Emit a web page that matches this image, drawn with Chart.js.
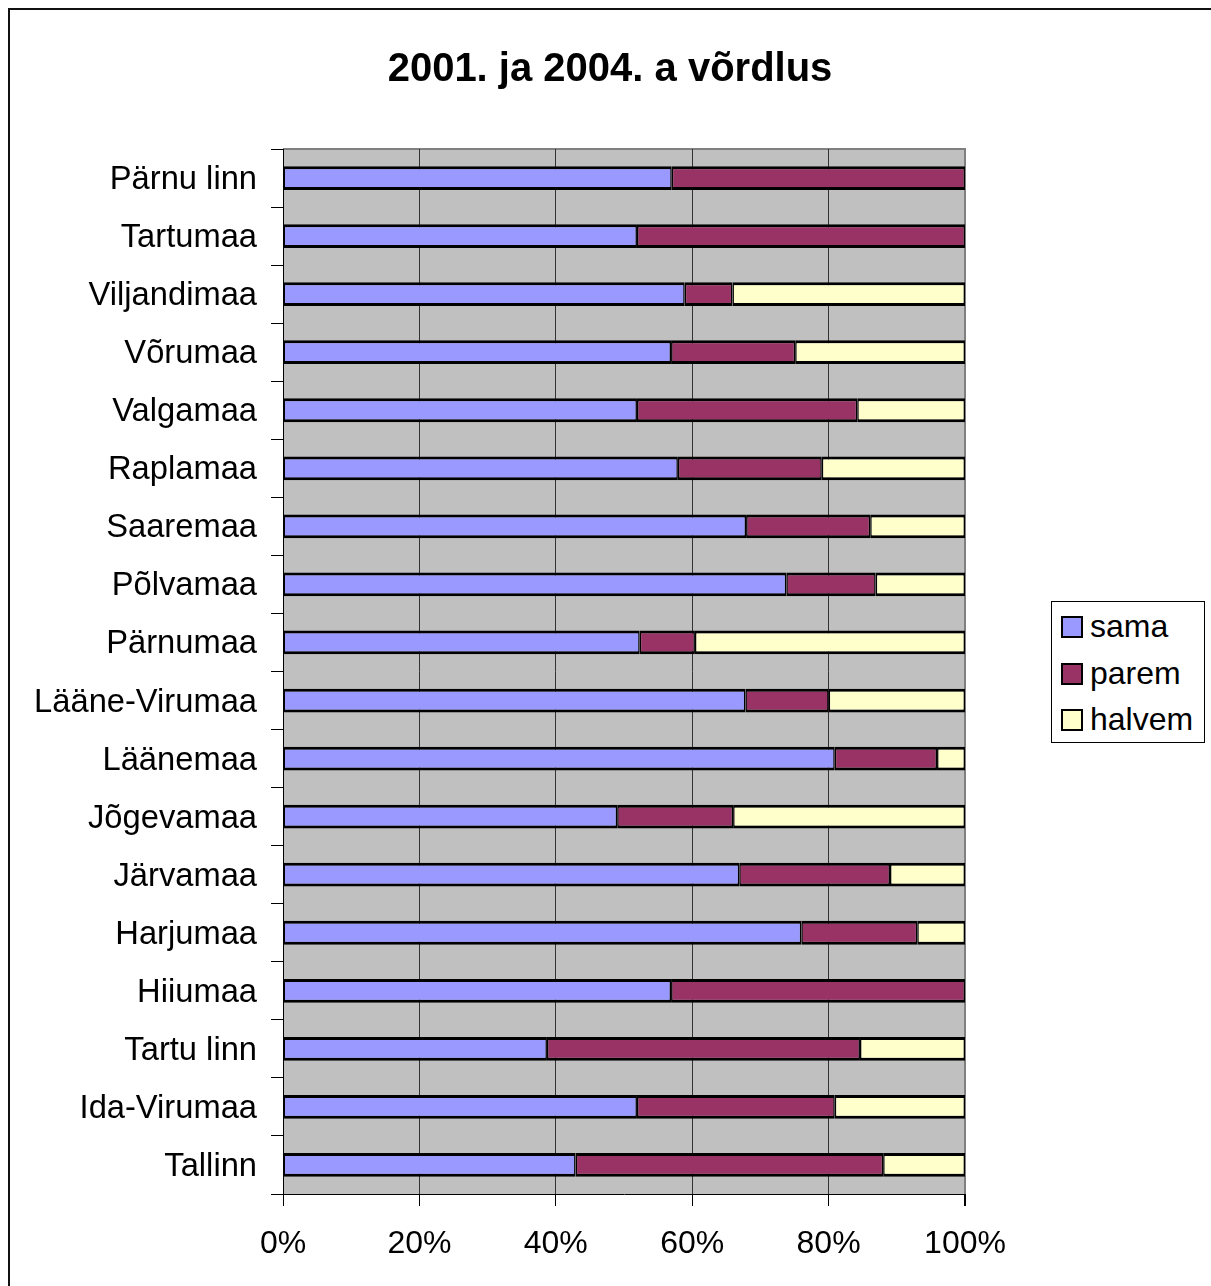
<!DOCTYPE html>
<html>
<head>
<meta charset="utf-8">
<script src="https://cdn.jsdelivr.net/npm/chart.js@4"></script>
<style>
html,body{margin:0;padding:0;background:#fff;}
#wrap{position:relative;width:1211px;height:1286px;overflow:hidden;background:#fff;}
#frame{position:absolute;left:8px;top:8px;width:1400px;height:1400px;border-left:2px solid #111;border-top:2px solid #111;}
#c{position:absolute;left:0;top:0;}
#legend{position:absolute;left:1051px;top:601px;width:152px;height:140px;border:1px solid #000;background:#fff;font-family:'Liberation Sans',Arial,sans-serif;font-size:32px;color:#000;}
.sw{position:absolute;left:9px;width:18px;height:18px;border:2px solid #000;}
.lt{position:absolute;left:38px;line-height:32px;white-space:nowrap;}
</style>
</head>
<body>
<div id="wrap">
  <div id="frame"></div>
  <canvas id="c" width="1211" height="1286"></canvas>
  <div id="legend"></div>
</div>
<script>
const categories = ['Pärnu linn','Tartumaa','Viljandimaa','Võrumaa','Valgamaa','Raplamaa','Saaremaa','Põlvamaa','Pärnumaa','Lääne-Virumaa','Läänemaa','Jõgevamaa','Järvamaa','Harjumaa','Hiiumaa','Tartu linn','Ida-Virumaa','Tallinn'];
const sama   = [57.0, 51.9, 58.9, 56.9, 51.9, 57.9, 67.9, 73.8, 52.3, 67.8, 80.9, 49.0, 66.9, 76.0, 56.9, 38.7, 51.9, 42.9];
const parem  = [43.0, 48.1,  7.0, 18.2, 32.3, 21.1, 18.2, 13.1,  8.1, 12.2, 15.0, 17.0, 22.1, 17.0, 43.1, 45.9, 29.0, 45.1];
const halvem = [ 0.0,  0.0, 34.1, 24.9, 15.8, 21.0, 13.9, 13.1, 39.6, 20.0,  4.1, 34.0, 11.0,  7.0,  0.0, 15.4, 19.1, 12.0];
const xTicks = [0, 20, 40, 60, 80, 100];
const seriesNames = ['sama', 'parem', 'halvem'];
const seriesColors = ['#9999FF', '#993366', '#FFFFCC'];
const chartTitle = '2001. ja 2004. a võrdlus';

const FONT = "'Liberation Sans', Arial, sans-serif";
Chart.defaults.font.family = FONT;
Chart.defaults.color = '#000';

const plotBg = {
  id: 'plotBg',
  beforeDraw(chart) {
    const {ctx, chartArea: a} = chart;
    ctx.save();
    ctx.fillStyle = '#C0C0C0';
    ctx.fillRect(a.left, a.top, a.right - a.left, a.bottom - a.top);
    ctx.strokeStyle = '#808080';
    ctx.lineWidth = 2;
    ctx.beginPath();
    ctx.moveTo(a.left, a.top);
    ctx.lineTo(a.right, a.top);
    ctx.lineTo(a.right, a.bottom);
    ctx.stroke();
    ctx.restore();
  }
};

const seriesData = [sama, parem, halvem];
const datasets = seriesNames.map((name, i) => ({
  label: name,
  data: seriesData[i],
  backgroundColor: seriesColors[i],
  borderColor: '#000',
  borderWidth: {top: 3, bottom: 3, left: 1.5, right: 1.5},
  borderSkipped: false,
  barPercentage: 0.41,
  categoryPercentage: 1.0
}));

const chart = new Chart(document.getElementById('c'), {
  type: 'bar',
  data: { labels: categories, datasets },
  plugins: [plotBg],
  options: {
    indexAxis: 'y',
    responsive: false,
    devicePixelRatio: 1,
    animation: false,
    layout: { padding: { left: 9, right: 0, top: 0, bottom: 0 } },
    plugins: {
      legend: { display: false },
      tooltip: { enabled: false },
      title: {
        display: true,
        text: chartTitle,
        color: '#000',
        font: { family: FONT, size: 40, weight: 'bold', lineHeight: 1 },
        padding: { top: 50, bottom: 59 }
      }
    },
    scales: {
      x: {
        type: 'linear',
        stacked: true,
        min: 0,
        max: 100,
        position: 'bottom',
        afterBuildTicks(scale) { scale.ticks = xTicks.map(v => ({ value: v })); },
        ticks: {
          callback: v => v + '%',
          font: { family: FONT, size: 32 },
          color: '#000',
          padding: 19,
          maxRotation: 0,
          autoSkip: false
        },
        grid: {
          color: ctx => (ctx.tick && ctx.tick.value === 100) ? '#808080' : '#333',
          lineWidth: ctx => (ctx.tick && ctx.tick.value === 100) ? 2 : 1,
          tickColor: '#000',
          tickLength: 12,
          drawTicks: true
        },
        border: { color: '#000', width: 1 },
        afterFit(scale) { scale.height = 92; }
      },
      y: {
        type: 'category',
        stacked: true,
        position: 'left',
        ticks: {
          font: { family: FONT, size: 32.7 },
          color: '#000',
          padding: 14,
          labelOffset: 2,
          autoSkip: false
        },
        grid: {
          drawOnChartArea: false,
          drawTicks: true,
          tickLength: 12,
          color: '#000',
          offset: true
        },
        border: { color: '#000', width: 1 },
        afterFit(scale) { scale.width = 274; }
      },
      yRight: {
        type: 'category',
        position: 'right',
        display: true,
        ticks: { display: false },
        grid: { display: false },
        border: { display: false },
        afterFit(scale) { scale.width = 246; }
      }
    }
  }
});

// HTML legend built from the chart's datasets
const legendEl = document.getElementById('legend');
const swatchTops = [14, 61, 107];
const textTops = [8, 55, 101];
chart.data.datasets.forEach((ds, i) => {
  const sw = document.createElement('div');
  sw.className = 'sw';
  sw.style.top = swatchTops[i] + 'px';
  sw.style.background = ds.backgroundColor;
  legendEl.appendChild(sw);
  const t = document.createElement('div');
  t.className = 'lt';
  t.style.top = textTops[i] + 'px';
  t.textContent = ds.label;
  legendEl.appendChild(t);
});
</script>
</body>
</html>
